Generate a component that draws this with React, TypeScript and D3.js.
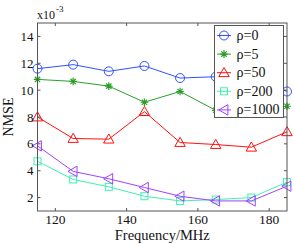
import React from "react";
import * as d3 from "d3";

const freqs = [115, 125, 135, 145, 155, 165, 175, 185];
const rho0 = [11.6, 11.9, 11.4, 11.8, 10.9, 11.0, 11.1, 9.9];
const rho5 = [10.8, 10.65, 10.3, 9.1, 9.9, 8.5, 8.45, 8.8];
const rho50 = [8.0, 6.4, 6.35, 8.4, 6.1, 5.95, 5.75, 6.9];
const rho200 = [4.7, 3.35, 2.8, 2.1, 1.75, 1.85, 2.0, 3.15];
const rho1000 = [5.85, 3.95, 3.4, 2.75, 2.1, 1.75, 1.75, 2.85];
const xTicks = [120, 140, 160, 180];
const yTicks = [2, 4, 6, 8, 10, 12, 14];
const seriesNames = ["ρ=0", "ρ=5", "ρ=50", "ρ=200", "ρ=1000"];

type Marker = "circle" | "star" | "tri" | "square" | "ltri";
const series: { name: string; values: number[]; color: string; marker: Marker }[] = [
  { name: seriesNames[0], values: rho0, color: "#3050ff", marker: "circle" },
  { name: seriesNames[1], values: rho5, color: "#2aa02a", marker: "star" },
  { name: seriesNames[2], values: rho50, color: "#ff1010", marker: "tri" },
  { name: seriesNames[3], values: rho200, color: "#40f0b0", marker: "square" },
  { name: seriesNames[4], values: rho1000, color: "#a040ff", marker: "ltri" },
];

const W = 294, H = 244;
const L = 37.5, R = 287, T = 23, B = 211;
const FONT = '"Liberation Serif", "Times New Roman", "DejaVu Serif", Times, serif';

function MarkerShape({ type, x, y, color }: { type: Marker; x: number; y: number; color: string }) {
  const common = { fill: "none", stroke: color, strokeWidth: 1 };
  if (type === "circle") return <circle cx={x} cy={y} r={4.5} {...common} />;
  if (type === "square") return <rect x={x - 3.5} y={y - 3.5} width={7} height={7} {...common} />;
  if (type === "tri") {
    const s = 5.2;
    return <path d={`M${x},${y - s}L${x + s},${y + s * 0.75}L${x - s},${y + s * 0.75}Z`} {...common} />;
  }
  if (type === "ltri") {
    const s = 5.2;
    return <path d={`M${x - s},${y}L${x + s * 0.75},${y - s}L${x + s * 0.75},${y + s}Z`} {...common} />;
  }
  const s = 3.8, d = s * 0.7;
  return (
    <path
      d={`M${x - s},${y}L${x + s},${y}M${x},${y - s}L${x},${y + s}M${x - d},${y - d}L${x + d},${y + d}M${x - d},${y + d}L${x + d},${y - d}`}
      {...common}
      strokeWidth={1.2}
    />
  );
}

export default function App() {
  const x = d3.scaleLinear().domain([115, 185]).range([L, R]);
  const y = d3.scaleLinear().domain([1, 15]).range([B, T]);
  const line = d3
    .line<number>()
    .x((_, i) => x(freqs[i]))
    .y((v) => y(v));
  const axisColor = "#555";
  const tl = 3;

  const legX = 214.5, legY = 25.5, legW = 69, legH = 92;
  const rowY = (i: number) => 35.5 + i * 18.6;
  const ts = { fontFamily: FONT };

  return (
    <svg
      width={W}
      height={H}
      style={{ position: "absolute", left: 0, top: 0, background: "#fff", fontFamily: FONT }}
    >
      <rect x={0} y={0} width={W} height={H} fill="#fff" />
      {series.map((s) => (
        <g key={s.name}>
          <path d={line(s.values) || ""} fill="none" stroke={s.color} strokeWidth={1} />
          {s.values.map((v, i) => (
            <MarkerShape key={i} type={s.marker} x={x(freqs[i])} y={y(v)} color={s.color} />
          ))}
        </g>
      ))}
      {/* frame */}
      <rect x={L} y={T} width={R - L} height={B - T} fill="none" stroke={axisColor} strokeWidth={1} />
      {xTicks.map((t) => (
        <g key={t}>
          <line x1={x(t)} x2={x(t)} y1={B} y2={B - tl} stroke={axisColor} />
          <line x1={x(t)} x2={x(t)} y1={T} y2={T + tl} stroke={axisColor} />
          <text x={x(t)} y={224} textAnchor="middle" fontSize={13.5} fill="#111" style={ts}>
            {t}
          </text>
        </g>
      ))}
      {yTicks.map((t) => (
        <g key={t}>
          <line x1={L} x2={L + tl} y1={y(t)} y2={y(t)} stroke={axisColor} />
          <line x1={R} x2={R - tl} y1={y(t)} y2={y(t)} stroke={axisColor} />
          <text x={L - 4} y={y(t) + 4.5} textAnchor="end" fontSize={13} fill="#111" style={ts}>
            {t}
          </text>
        </g>
      ))}
      <text x={(L + R) / 2} y={239.5} textAnchor="middle" fontSize={14.5} fill="#111" style={ts}>
        Frequency/MHz
      </text>
      <text
        transform={`translate(13,${(T + B) / 2}) rotate(-90)`}
        textAnchor="middle"
        fontSize={14}
        fill="#111"
        style={ts}
      >
        NMSE
      </text>
      <text x={37} y={19} fontSize={12} fill="#111" style={ts}>
        x
      </text>
      <text x={43} y={19} fontSize={12} fill="#111" style={ts}>
        10
      </text>
      <text x={56} y={12} fontSize={9} fill="#111" style={ts}>
        -3
      </text>
      {/* legend */}
      <rect x={legX} y={legY} width={legW} height={legH} fill="#fff" stroke={axisColor} strokeWidth={1} />
      {series.map((s, i) => (
        <g key={s.name}>
          <line x1={217} x2={231} y1={rowY(i)} y2={rowY(i)} stroke={s.color} strokeWidth={1} />
          <MarkerShape type={s.marker} x={224} y={rowY(i)} color={s.color} />
          <text x={236.5} y={rowY(i) + 4.5} fontSize={14} fill="#111" style={ts}>
            {s.name}
          </text>
        </g>
      ))}
    </svg>
  );
}
